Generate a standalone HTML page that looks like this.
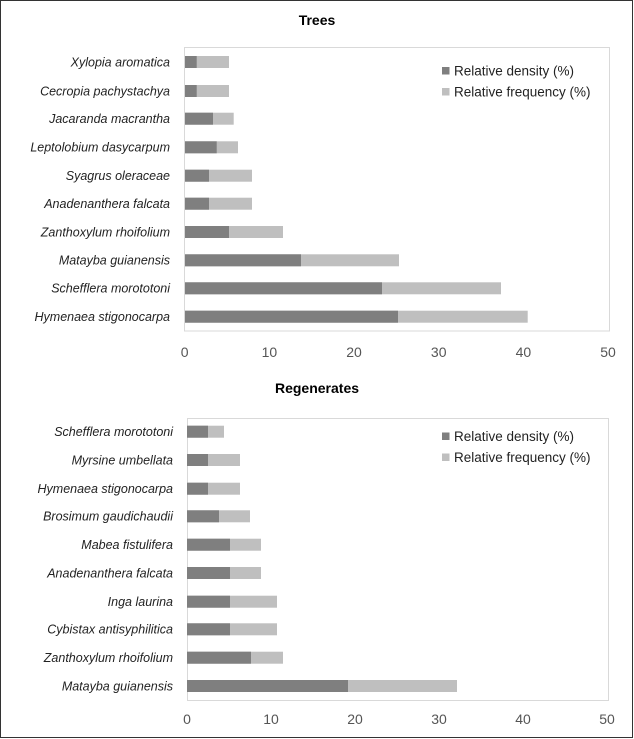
<!DOCTYPE html>
<html><head><meta charset="utf-8"><style>
html,body{margin:0;padding:0;background:#fff}
svg{display:block;font-family:"Liberation Sans",sans-serif}
</style></head><body>
<svg width="634" height="739" viewBox="0 0 634 739" xmlns="http://www.w3.org/2000/svg">
<rect x="0.5" y="0.5" width="632" height="737" fill="#fff" stroke="#333" stroke-width="1"/>
<g font-size="14" font-weight="bold" fill="#000" text-anchor="middle">
<text x="317" y="25">Trees</text>
<text x="317" y="393">Regenerates</text>
</g>
<rect x="184.5" y="47.5" width="425" height="283.5" fill="none" stroke="#d9d9d9"/>
<rect x="187.5" y="418.5" width="421" height="282" fill="none" stroke="#d9d9d9"/>
<g font-size="12.5" font-style="italic" fill="#222" text-anchor="end">
<text x="170" y="66.5">Xylopia aromatica</text>
<text x="170" y="95.5">Cecropia pachystachya</text>
<text x="170" y="123">Jacaranda macrantha</text>
<text x="170" y="151.5">Leptolobium dasycarpum</text>
<text x="170" y="180">Syagrus oleraceae</text>
<text x="170" y="208">Anadenanthera falcata</text>
<text x="170" y="236.5">Zanthoxylum rhoifolium</text>
<text x="170" y="264.5">Matayba guianensis</text>
<text x="170" y="292.5">Schefflera morototoni</text>
<text x="170" y="321">Hymenaea stigonocarpa</text>
<text x="173" y="436">Schefflera morototoni</text>
<text x="173" y="464.5">Myrsine umbellata</text>
<text x="173" y="493">Hymenaea stigonocarpa</text>
<text x="173" y="520.5">Brosimum gaudichaudii</text>
<text x="173" y="549">Mabea fistulifera</text>
<text x="173" y="577.5">Anadenanthera falcata</text>
<text x="173" y="606">Inga laurina</text>
<text x="173" y="633.5">Cybistax antisyphilitica</text>
<text x="173" y="662">Zanthoxylum rhoifolium</text>
<text x="173" y="690.5">Matayba guianensis</text>
</g>
<g fill="#bfbfbf">
<rect x="185" y="56" width="44" height="12"/>
<rect x="185" y="85" width="44" height="12"/>
<rect x="185" y="112.7" width="48.7" height="12"/>
<rect x="185" y="141.3" width="53" height="12"/>
<rect x="185" y="169.7" width="67" height="12"/>
<rect x="185" y="197.7" width="67" height="12"/>
<rect x="185" y="226" width="98" height="12"/>
<rect x="185" y="254.3" width="214" height="12"/>
<rect x="185" y="282.3" width="316" height="12"/>
<rect x="185" y="310.7" width="342.7" height="12"/>
<rect x="187" y="425.7" width="37" height="12"/>
<rect x="187" y="454" width="53" height="12"/>
<rect x="187" y="482.7" width="53" height="12"/>
<rect x="187" y="510.3" width="63" height="12"/>
<rect x="187" y="538.7" width="74" height="12"/>
<rect x="187" y="567" width="74" height="12"/>
<rect x="187" y="595.7" width="90" height="12"/>
<rect x="187" y="623.3" width="90" height="12"/>
<rect x="187" y="651.7" width="96" height="12"/>
<rect x="187" y="680" width="270" height="12"/>
</g>
<g fill="#7f7f7f">
<rect x="185" y="56" width="11.7" height="12"/>
<rect x="185" y="85" width="11.7" height="12"/>
<rect x="185" y="112.7" width="28" height="12"/>
<rect x="185" y="141.3" width="31.7" height="12"/>
<rect x="185" y="169.7" width="24" height="12"/>
<rect x="185" y="197.7" width="24" height="12"/>
<rect x="185" y="226" width="44" height="12"/>
<rect x="185" y="254.3" width="116" height="12"/>
<rect x="185" y="282.3" width="197" height="12"/>
<rect x="185" y="310.7" width="213" height="12"/>
<rect x="187" y="425.7" width="21" height="12"/>
<rect x="187" y="454" width="21" height="12"/>
<rect x="187" y="482.7" width="21" height="12"/>
<rect x="187" y="510.3" width="32" height="12"/>
<rect x="187" y="538.7" width="43" height="12"/>
<rect x="187" y="567" width="43" height="12"/>
<rect x="187" y="595.7" width="43" height="12"/>
<rect x="187" y="623.3" width="43" height="12"/>
<rect x="187" y="651.7" width="64" height="12"/>
<rect x="187" y="680" width="161" height="12"/>
</g>
<g font-size="14" fill="#555" text-anchor="middle">
<text x="184.7" y="357">0</text><text x="269.4" y="357">10</text><text x="354" y="357">20</text><text x="438.7" y="357">30</text><text x="523.4" y="357">40</text><text x="608" y="357">50</text>
<text x="187" y="724">0</text><text x="271" y="724">10</text><text x="355" y="724">20</text><text x="439" y="724">30</text><text x="523" y="724">40</text><text x="607" y="724">50</text>
</g>
<rect x="442" y="67" width="7.5" height="7.5" fill="#7f7f7f"/>
<rect x="442" y="88" width="7.5" height="7.5" fill="#bfbfbf"/>
<rect x="442" y="432.5" width="7.5" height="7.5" fill="#7f7f7f"/>
<rect x="442" y="453.5" width="7.5" height="7.5" fill="#bfbfbf"/>
<g font-size="13.5" fill="#222">
<text x="454" y="75.5">Relative density (%)</text>
<text x="454" y="96.5">Relative frequency (%)</text>
<text x="454" y="441">Relative density (%)</text>
<text x="454" y="462">Relative frequency (%)</text>
</g>
</svg>
</body></html>
